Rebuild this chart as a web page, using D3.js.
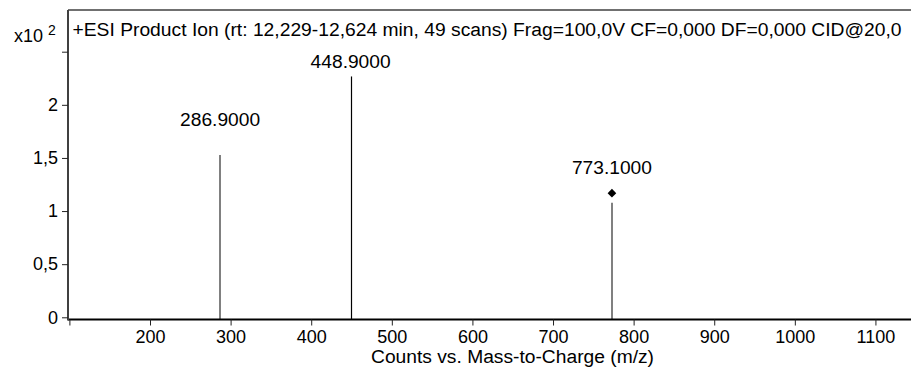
<!DOCTYPE html>
<html>
<head>
<meta charset="utf-8">
<script src="https://cdn.jsdelivr.net/npm/d3@7"></script>
<style>
  html, body { margin: 0; padding: 0; background: #fff; }
  svg text { font-family: "Liberation Sans", Arial, sans-serif; fill: #000; }
</style>
</head>
<body>
<svg id="chart" width="911" height="369"></svg>
<script>
// Product ion spectrum peaks (m/z and counts)
const peakMz = [286.9, 448.9, 773.1];
const peakCounts = [152.8, 226.7, 107.9];
const peakLabels = ["286.9000", "448.9000", "773.1000"];
const peakColors = ["#808080", "#000000", "#808080"];
const precursorMz = [773.1];

const xTicks = [100, 200, 300, 400, 500, 600, 700, 800, 900, 1000, 1100];
const xTickLabels = ["", "200", "300", "400", "500", "600", "700", "800", "900", "1000", "1100"];
const yTicks = [0, 0.5, 1, 1.5, 2, 2.5];
const yTickLabels = ["0", "0,5", "1", "1,5", "2", ""];

const title = "+ESI Product Ion (rt: 12,229-12,624 min, 49 scans) Frag=100,0V CF=0,000 DF=0,000 CID@20,0";
const xTitle = "Counts vs. Mass-to-Charge (m/z)";

const svg = d3.select("#chart");
const plotLeft = 68, plotRight = 911, plotTop = 10, plotBottom = 319.5;
const fontSize = 18;

const x = d3.scaleLinear().domain([100, 1144]).range([69.4, 910.9]);
const y = d3.scaleLinear().domain([0, 2.5]).range([317.3, 51.7]);
const yOf = i => y(peakCounts[i] / 100);   // counts are plotted in units of 10^2

// Frame: top border line
svg.append("line")
  .attr("x1", plotLeft).attr("x2", plotRight).attr("y1", plotTop).attr("y2", plotTop)
  .attr("stroke", "#404040").attr("stroke-width", 1.5);

// Peaks
svg.append("g").selectAll("line")
  .data(peakMz)
  .join("line")
  .attr("x1", (d, i) => i === 1 ? Math.round(x(d)) + 0.5 : Math.round(x(d)))
  .attr("x2", (d, i) => i === 1 ? Math.round(x(d)) + 0.5 : Math.round(x(d)))
  .attr("y1", plotBottom)
  .attr("y2", (d, i) => yOf(i))
  .attr("stroke", (d, i) => peakColors[i])
  .attr("stroke-width", (d, i) => i === 1 ? 1.2 : 2);

// Peak labels, kept below the title line
svg.append("g").selectAll("text")
  .data(peakMz)
  .join("text")
  .attr("x", d => x(d))
  .attr("y", (d, i) => Math.max(yOf(i) - 29, 68.3))
  .attr("text-anchor", "middle")
  .attr("font-size", fontSize)
  .attr("textLength", 80)
  .attr("lengthAdjust", "spacingAndGlyphs")
  .text((d, i) => peakLabels[i]);

// Precursor marker
svg.append("g").selectAll("path")
  .data(precursorMz)
  .join("path")
  .attr("d", d3.symbol().type(d3.symbolDiamond2).size(48))
  .attr("transform", d => `translate(${x(d)},${yOf(peakMz.indexOf(d)) - 9.5})`)
  .attr("fill", "#000");

// X axis
const xAxis = svg.append("g").attr("transform", `translate(0,${plotBottom})`);
xAxis.append("line").attr("x1", plotLeft).attr("x2", plotRight).attr("y1", 0).attr("y2", 0)
  .attr("stroke", "#000").attr("stroke-width", 2);
xAxis.call(g => {
  const ax = d3.axisBottom(x).tickValues(xTicks).tickFormat((d, i) => xTickLabels[i])
    .tickSizeOuter(0).tickSizeInner(6).tickPadding(5);
  const sub = g.append("g").call(ax);
  sub.select(".domain").remove();
  sub.selectAll(".tick line").attr("stroke", "#222");
  sub.selectAll(".tick text").attr("font-size", fontSize).attr("font-family", "Liberation Sans, Arial, sans-serif");
});

// Y axis
const yAxis = svg.append("g").attr("transform", `translate(${plotLeft},0)`);
yAxis.append("line").attr("x1", 0).attr("x2", 0).attr("y1", plotTop).attr("y2", plotBottom + 1)
  .attr("stroke", "#404040").attr("stroke-width", 2);
yAxis.call(g => {
  const ax = d3.axisLeft(y).tickValues(yTicks).tickFormat((d, i) => yTickLabels[i])
    .tickSizeOuter(0).tickSizeInner(6).tickPadding(4);
  const sub = g.append("g").call(ax);
  sub.select(".domain").remove();
  sub.selectAll(".tick line").attr("stroke", "#222");
  sub.selectAll(".tick text").attr("font-size", fontSize).attr("font-family", "Liberation Sans, Arial, sans-serif");
});

// Exponent label for the y axis
const expo = svg.append("text").attr("x", 14).attr("y", 42).attr("font-size", fontSize);
expo.append("tspan").text("x10");
expo.append("tspan").attr("x", 48).attr("font-size", 14).attr("dy", -7).text("2");

// Title
svg.append("text").attr("x", 72.5).attr("y", 36).attr("font-size", fontSize)
  .attr("textLength", 829).attr("lengthAdjust", "spacingAndGlyphs").text(title);

// X axis title
svg.append("text").attr("x", 512.5).attr("y", 363).attr("text-anchor", "middle")
  .attr("font-size", fontSize).attr("textLength", 283).attr("lengthAdjust", "spacingAndGlyphs")
  .text(xTitle);
</script>
</body>
</html>
